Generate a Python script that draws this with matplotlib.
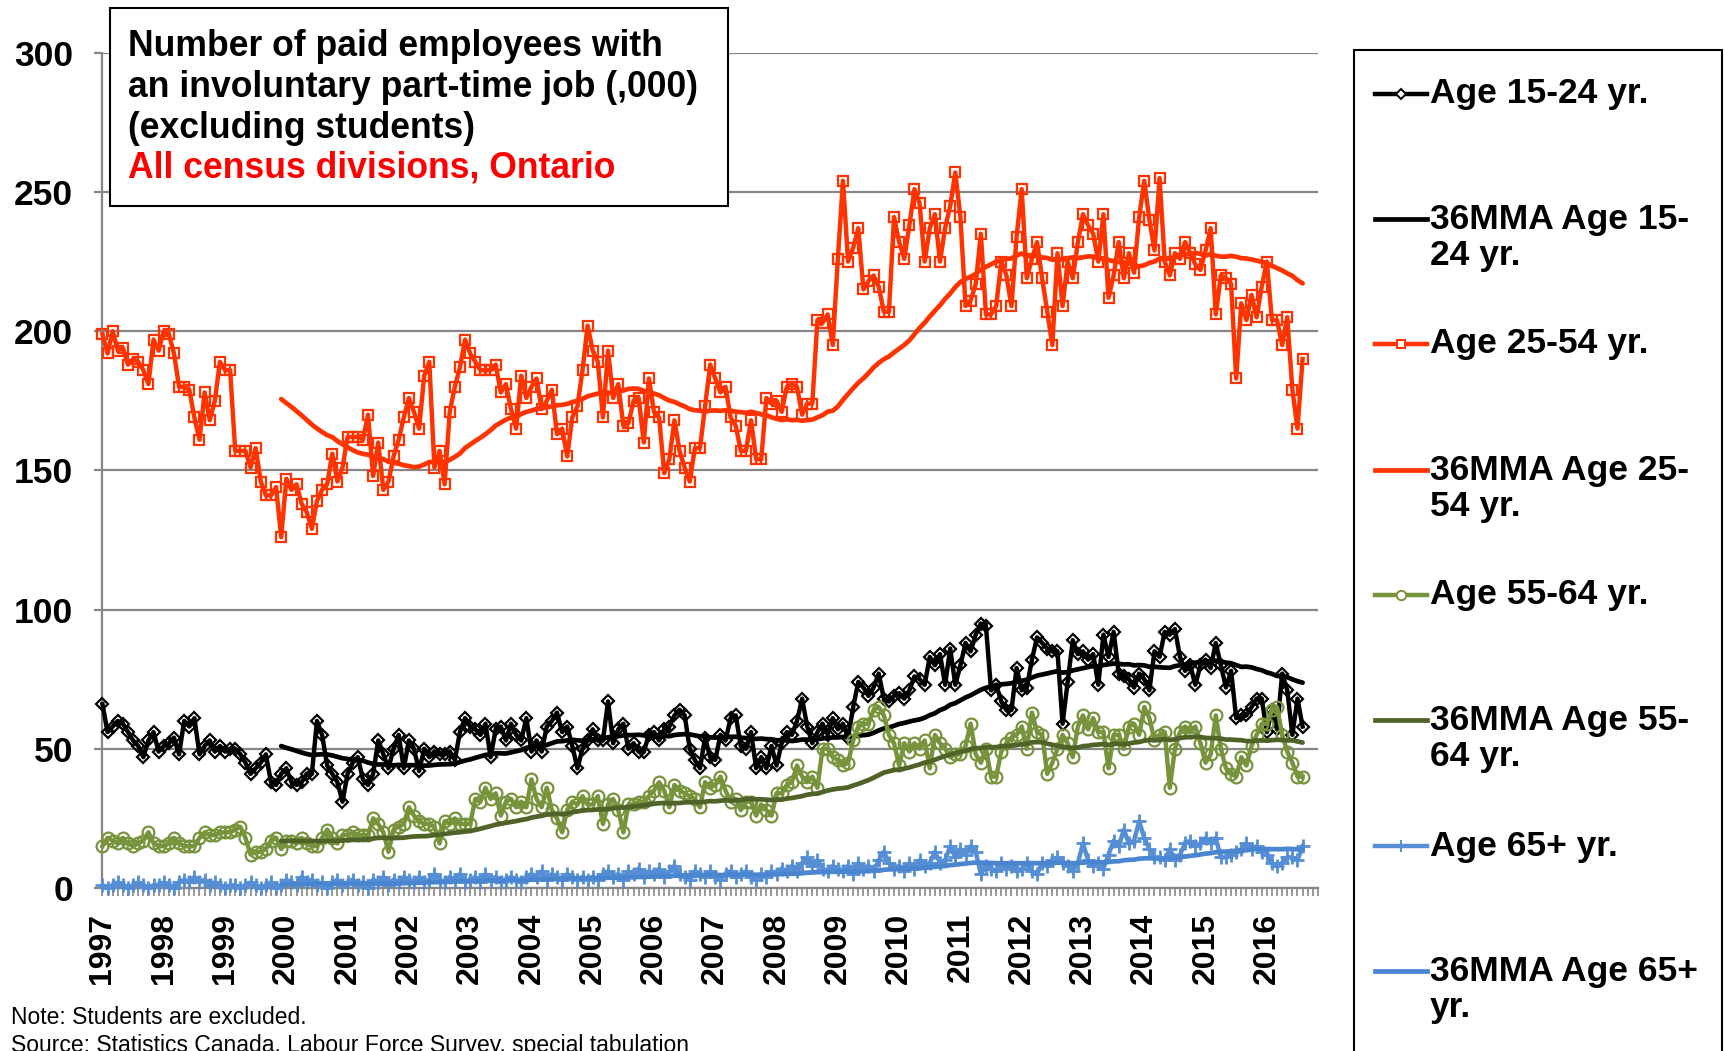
import numpy as np
import pandas as pd
import matplotlib
matplotlib.use('Agg')
import matplotlib.pyplot as plt
from matplotlib.patches import Rectangle
from matplotlib.lines import Line2D

plt.rcParams['font.family'] = ['Liberation Sans', 'DejaVu Sans']

# monthly, Jan 1997 .. Aug 2016 (thousands)
years = [str(y) for y in range(1997, 2017)]

age_15_24 = [66, 56, 58, 60, 59, 56, 53, 51, 47, 53, 56, 49,
             51, 52, 54, 48, 60, 58, 61, 48, 51, 53, 49, 51,
             49, 50, 50, 48, 45, 41, 43, 45, 48, 38, 37, 41,
             43, 38, 37, 38, 41, 41, 60, 55, 44, 41, 38, 31,
             41, 45, 47, 39, 37, 41, 53, 48, 43, 50, 55, 43,
             53, 50, 42, 50, 47, 49, 48, 48, 49, 46, 56, 61,
             58, 57, 55, 59, 47, 57, 58, 53, 59, 55, 53, 61,
             49, 53, 49, 58, 60, 63, 56, 58, 51, 43, 50, 53,
             57, 53, 53, 67, 52, 57, 59, 50, 52, 49, 49, 55,
             56, 53, 57, 58, 62, 64, 62, 50, 46, 43, 54, 47,
             46, 55, 53, 61, 62, 51, 50, 56, 43, 47, 43, 51,
             44, 52, 56, 55, 60, 68, 58, 52, 56, 59, 55, 61,
             57, 59, 54, 65, 74, 72, 69, 72, 77, 68, 67, 69,
             70, 68, 71, 76, 75, 73, 83, 80, 84, 73, 86, 73,
             80, 88, 85, 91, 95, 94, 71, 73, 67, 64, 64, 79,
             71, 72, 82, 90, 88, 86, 85, 85, 59, 74, 89, 84,
             85, 82, 84, 73, 91, 83, 92, 77, 76, 75, 72, 77,
             75, 71, 85, 83, 92, 91, 93, 83, 78, 80, 73, 80,
             82, 79, 88, 80, 72, 78, 61, 62, 62, 65, 68, 68,
             56, 64, 57, 77, 71, 55, 68, 58]

age_25_54 = [199, 192, 200, 193, 194, 188, 190, 189, 186, 181, 197, 193,
             200, 199, 192, 180, 180, 179, 169, 161, 178, 168, 175, 189,
             186, 186, 157, 157, 157, 151, 158, 146, 141, 141, 144, 126,
             147, 143, 145, 138, 135, 129, 139, 143, 145, 156, 146, 151,
             162, 162, 162, 161, 170, 148, 160, 143, 146, 155, 161, 169,
             176, 171, 165, 184, 189, 151, 157, 145, 171, 180, 187, 197,
             192, 189, 186, 186, 186, 188, 178, 181, 172, 165, 184, 176,
             180, 183, 172, 175, 179, 163, 165, 155, 169, 173, 186, 202,
             193, 189, 169, 193, 176, 181, 166, 167, 175, 176, 160, 183,
             171, 169, 149, 154, 168, 157, 151, 146, 158, 158, 173, 188,
             183, 178, 180, 169, 166, 157, 157, 168, 154, 154, 176, 174,
             175, 171, 180, 181, 180, 170, 174, 174, 204, 203, 206, 195,
             226, 254, 225, 230, 237, 215, 218, 220, 216, 207, 207, 241,
             232, 226, 238, 251, 246, 225, 237, 242, 225, 237, 245, 257,
             241, 209, 211, 217, 235, 206, 206, 209, 225, 220, 209, 234,
             251, 219, 226, 232, 219, 207, 195, 228, 209, 225, 219, 232,
             242, 238, 235, 225, 242, 212, 220, 232, 219, 228, 221, 241,
             254, 240, 229, 255, 225, 220, 228, 226, 232, 228, 224, 222,
             229, 237, 206, 220, 219, 217, 183, 210, 204, 213, 205, 216,
             225, 204, 204, 195, 205, 179, 165, 190]

age_55_64 = [15, 18, 17, 16, 18, 16, 15, 16, 17, 20, 16, 15,
             15, 16, 18, 16, 15, 15, 15, 18, 20, 19, 19, 20,
             20, 20, 21, 22, 18, 12, 13, 13, 14, 17, 18, 14,
             17, 17, 16, 18, 16, 15, 15, 18, 21, 18, 16, 19,
             19, 20, 19, 19, 19, 25, 23, 20, 13, 21, 22, 23,
             29, 26, 24, 23, 23, 22, 16, 24, 23, 25, 23, 23,
             23, 32, 31, 36, 32, 34, 26, 31, 32, 29, 31, 29,
             39, 32, 29, 36, 28, 25, 20, 28, 31, 30, 33, 30,
             30, 33, 23, 30, 32, 28, 20, 30, 30, 31, 31, 33,
             35, 38, 35, 29, 37, 35, 34, 33, 32, 29, 38, 36,
             37, 40, 35, 31, 32, 28, 31, 31, 26, 30, 28, 26,
             34, 34, 37, 38, 44, 40, 38, 40, 36, 50, 50, 47,
             46, 44, 45, 53, 58, 59, 59, 64, 65, 62, 55, 52,
             44, 52, 49, 52, 50, 53, 43, 55, 52, 50, 47, 48,
             48, 51, 59, 48, 45, 50, 40, 40, 49, 52, 54, 55,
             58, 50, 63, 56, 55, 41, 45, 50, 55, 52, 47, 58,
             62, 57, 61, 56, 56, 43, 55, 55, 50, 58, 59, 55,
             65, 61, 53, 55, 56, 36, 50, 56, 58, 56, 58, 52,
             45, 48, 62, 50, 43, 41, 40, 47, 44, 51, 55, 59,
             59, 64, 65, 55, 49, 45, 40, 40]

age_65_plus = [1, 0, 1, 2, 1, 0, 1, 2, 1, 0, 1, 1,
               2, 1, 0, 2, 3, 2, 4, 2, 3, 1, 2, 1,
               0, 1, 1, 0, 1, 2, 1, 0, 1, 2, 0, 1,
               3, 2, 1, 4, 2, 3, 1, 2, 0, 2, 3, 1,
               2, 3, 1, 2, 0, 3, 2, 4, 1, 3, 2, 4,
               3, 2, 4, 2, 3, 5, 3, 2, 4, 3, 5, 2,
               3, 4, 2, 5, 3, 4, 2, 3, 4, 3, 2, 4,
               5, 4, 6, 3, 5, 4, 3, 5, 4, 3, 4, 3,
               4, 3, 5, 6, 4, 5, 3, 6, 5, 7, 4, 6,
               5, 7, 4, 6, 8, 5, 4, 3, 6, 5, 4, 6,
               4, 3, 5, 6, 4, 5, 6, 4, 3, 5, 4, 6,
               5, 7, 6, 8, 6, 9, 11, 8, 10, 7, 6, 8,
               7, 6, 8, 5, 9, 7, 8, 6, 10, 13, 9, 7,
               8, 6, 9, 7, 10, 8, 9, 13, 9, 10, 15, 11,
               14, 12, 15, 13, 5, 8, 7, 6, 9, 7, 8, 6,
               7, 9, 6, 5, 9, 8, 10, 11, 9, 8, 6, 9,
               16, 10, 8, 9, 7, 12, 17, 15, 21, 16, 17, 24,
               18, 14, 11, 11, 10, 14, 10, 12, 16, 17, 15, 16,
               18, 16, 18, 11, 11, 12, 13, 14, 16, 14, 15, 13,
               12, 9, 8, 9, 11, 11, 10, 15]


def mma(vals):
    """36-month trailing moving average"""
    return pd.Series(vals, dtype=float).rolling(36).mean().values


grid = '#868686'
orange = '#FF3300'
green = '#77933C'
dkgreen = '#4F6228'
blue = '#558ED5'
blue2 = '#4A86D0'

# (values, colour, marker, ms, mma colour, label, mma label)
series = [
    (age_15_24, 'black', 'D', 6.5, 'black', 'Age 15-24 yr.', ['36MMA Age 15-', '24 yr.']),
    (age_25_54, orange, 's', 7, orange, 'Age 25-54 yr.', ['36MMA Age 25-', '54 yr.']),
    (age_55_64, green, 'o', 8.5, dkgreen, 'Age 55-64 yr.', ['36MMA Age 55-', '64 yr.']),
    (age_65_plus, blue, '+', 10, blue2, 'Age 65+ yr.', ['36MMA Age 65+', 'yr.']),
]

fig = plt.figure(figsize=(17.25, 10.51), dpi=100)
ax = fig.add_axes([0.0594, 0.1551, 0.7046, 0.7947])

z = 3
for vals, col, mk, ms, mcol, lab, mlab in series:
    x = np.arange(len(vals))
    ax.plot(x, vals, color=col, lw=3.2, marker=mk, ms=ms, mfc='none', mec=col,
            mew=1.6 if mk != '+' else 2, zorder=z, clip_on=False)
    ax.plot(x, mma(vals), color=mcol, lw=3.4, zorder=z + 1, solid_capstyle='round')
    z += 2

ax.set_xlim(0, 238)
ax.set_ylim(0, 300)
ax.set_yticks(range(0, 301, 50), [str(v) for v in range(0, 301, 50)],
              fontsize=25.5, fontweight='bold')
ax.set_xticks(range(0, 12 * len(years), 12), years, rotation=90,
              fontsize=23, fontweight='bold')
ax.set_xticks(np.arange(0, 239), minor=True)
ax.yaxis.grid(True, color=grid, lw=1.6)
ax.set_axisbelow(True)
for s in ['top', 'right']:
    ax.spines[s].set_visible(False)
for s in ['left', 'bottom']:
    ax.spines[s].set_color(grid)
    ax.spines[s].set_linewidth(1.6)
ax.tick_params(axis='y', length=6, width=1.6, color=grid, pad=15)
ax.tick_params(axis='x', which='both', length=6, width=1.2, color=grid, pad=12)

# title box
fig.add_artist(Rectangle((0.0638, 0.8043), 0.3583, 0.1884, transform=fig.transFigure,
                         facecolor='white', edgecolor='black', lw=1.5, zorder=10))
title_lines = ['Number of paid employees with', 'an involuntary part-time job (,000)',
               '(excluding students)', 'All census divisions, Ontario']
title_y = [0.9553, 0.9163, 0.8782, 0.8402]
for t, ty in zip(title_lines, title_y):
    fig.text(0.0742, ty, t, fontsize=25.6, fontweight='bold', va='center', zorder=11,
             color='red' if 'Ontario' in t else 'black')

# legend box
fig.add_artist(Rectangle((0.785, -0.05), 0.2133, 1.0029, transform=fig.transFigure,
                         facecolor='white', edgecolor='black', lw=1.5, zorder=10))
leg_y = [0.911, 0.7916, 0.6727, 0.5528, 0.4339, 0.3145, 0.195, 0.0761]
i = 0
for vals, col, mk, ms, mcol, lab, mlab in series:
    y = leg_y[i]
    fig.add_artist(Line2D([0.797, 0.812, 0.8272], [y, y, y], transform=fig.transFigure,
                          color=col, lw=3.2, marker=mk, ms=ms * 0.8, mfc='white', mec=col,
                          mew=1.4, markevery=[1], zorder=11))
    fig.text(0.829, y, lab, fontsize=25.5, fontweight='bold', va='center', zorder=11)
    y = leg_y[i + 1]
    fig.add_artist(Line2D([0.797, 0.8272], [y, y], transform=fig.transFigure,
                          color=mcol, lw=3.4, zorder=11))
    fig.text(0.829, y, mlab[0], fontsize=25.5, fontweight='bold', va='center', zorder=11)
    fig.text(0.829, y - 0.0343, mlab[1], fontsize=25.5, fontweight='bold', va='center', zorder=11)
    i += 2

fig.text(0.0064, 0.0314, 'Note: Students are excluded.', fontsize=16.5, va='center')
fig.text(0.0064, 0.0052, 'Source: Statistics Canada, Labour Force Survey, special tabulation',
         fontsize=16.5, va='center')

fig.savefig('out.png', dpi=100)
